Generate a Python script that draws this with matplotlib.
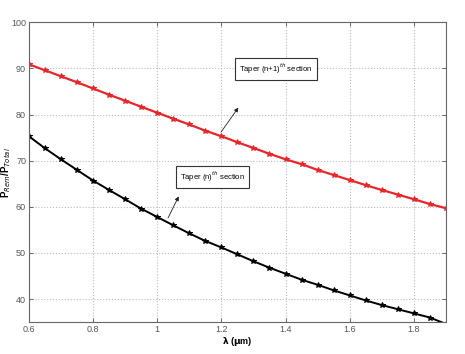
import numpy as np
import matplotlib
matplotlib.use('Agg')
import matplotlib.pyplot as plt

plt.rcParams['font.family'] = ['Liberation Sans Narrow', 'Liberation Sans', 'DejaVu Sans']

# wavelength (um)
wl = [0.6, 0.65, 0.7, 0.75, 0.8, 0.85, 0.9, 0.95, 1.0, 1.05, 1.1, 1.15, 1.2, 1.25,
      1.3, 1.35, 1.4, 1.45, 1.5, 1.55, 1.6, 1.65, 1.7, 1.75, 1.8, 1.85, 1.9]
# taper (n+1)th section
p_n1 = [90.9, 89.6, 88.3, 87.0, 85.65, 84.3, 83.0, 81.7, 80.4, 79.1, 77.85, 76.5, 75.3, 74.0,
        72.75, 71.5, 70.3, 69.25, 68.0, 66.9, 65.8, 64.7, 63.65, 62.65, 61.65, 60.6, 59.7]
# taper (n)th section
p_n = [75.3, 72.7, 70.3, 68.0, 65.7, 63.65, 61.65, 59.6, 57.8, 56.0, 54.25, 52.6, 51.2, 49.7,
       48.2, 46.8, 45.5, 44.2, 43.1, 41.9, 40.8, 39.7, 38.7, 37.8, 36.9, 36.0, 34.6]

xticks = [0.6, 0.8, 1.0, 1.2, 1.4, 1.6, 1.8]
xticklabels = ['0.6', '0.8', '1', '1.2', '1.4', '1.6', '1.8']
yticks = [40, 50, 60, 70, 80, 90, 100]

fig = plt.figure(figsize=(4.65, 3.54), dpi=100)
ax = fig.add_axes([0.062, 0.090, 0.897, 0.847])

ax.plot(wl, p_n1, color='#e8262a', lw=1.6, marker='*', ms=3.8, mew=0.7)
ax.plot(wl, p_n, color='black', lw=1.4, marker='*', ms=3.8, mew=0.7)

ax.set_xlim(0.6, 1.9)
ax.set_ylim(35, 100)
ax.set_xticks(xticks)
ax.set_xticklabels(xticklabels)
ax.set_yticks(yticks)
ax.tick_params(direction='in', top=True, right=True, labelsize=6.5, labelcolor='#555555',
               length=3, width=0.6, color='#555555', pad=2)
ax.grid(True, linestyle=':', color='#bbbbbb', lw=0.8)
for s in ax.spines.values():
    s.set_color('#666666')
    s.set_linewidth(0.8)

ax.set_xlabel(r'$\mathbf{\lambda}$ ($\mathbf{\mu}$m)', fontsize=6.5, fontweight='bold', labelpad=1)
ax.set_ylabel(r'P$_{Rem}$/P$_{Total}$', fontsize=7, fontweight='bold')
ax.yaxis.set_label_coords(-0.038, 0.5)

box = dict(boxstyle='square,pad=0.5', fc='white', ec='#333333', lw=0.8)
ax.text(1.370, 89.9, r'Taper (n+1)$^{th}$ section', fontsize=5.5, ha='center', va='center', bbox=box)
ax.text(1.172, 66.45, r'Taper (n)$^{th}$ section', fontsize=5.5, ha='center', va='center', bbox=box)

arrow = dict(arrowstyle='-|>', color='#222222', lw=0.6, mutation_scale=6)
ax.annotate('', xy=(1.258, 82.0), xytext=(1.194, 75.7), arrowprops=arrow)
ax.annotate('', xy=(1.071, 62.8), xytext=(1.030, 57.05), arrowprops=arrow)

fig.savefig('out.png', dpi=100)
